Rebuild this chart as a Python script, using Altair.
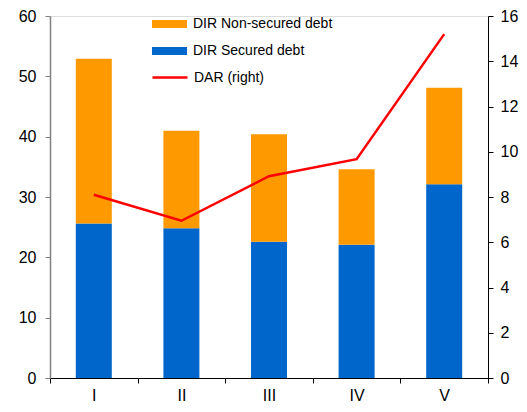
import altair as alt
import pandas as pd

categories = ["I", "II", "III", "IV", "V"]
secured = [25.6, 24.8, 22.6, 22.1, 32.1]
non_secured = [27.3, 16.2, 17.8, 12.5, 16.0]
dar = [8.1, 6.95, 8.92, 9.67, 15.2]

SEC = "DIR Secured debt"
NON = "DIR Non-secured debt"
DAR = "DAR (right)"

bars_df = pd.DataFrame(
    [{"cat": c, "series": SEC, "value": v, "ord": 0} for c, v in zip(categories, secured)]
    + [{"cat": c, "series": NON, "value": v, "ord": 1} for c, v in zip(categories, non_secured)]
)
line_df = pd.DataFrame({"cat": categories, "dar": dar, "lbl": [DAR] * len(categories)})

FONT = "Liberation Sans"
rect_path = "M-2.92,-0.67H2.92V0.67H-2.92Z"
line_path = "M-2.92,0H2.92"

x_enc = alt.X(
    "cat:N",
    sort=categories,
    scale=alt.Scale(paddingInner=0, paddingOuter=0),
    axis=alt.Axis(
        title=None, labelAngle=0, tickBand="extent", domainColor="black",
        tickColor="black", tickSize=5, labelPadding=4, labelFontSize=16,
        labelColor="black", labelFont=FONT,
    ),
)

bars = alt.Chart(bars_df).mark_bar(size=36).encode(
    x=x_enc,
    y=alt.Y(
        "value:Q", stack="zero",
        scale=alt.Scale(domain=[0, 60], nice=False),
        axis=alt.Axis(
            title=None, values=[0, 10, 20, 30, 40, 50, 60], grid=False,
            domainColor="#808080", tickColor="#808080", tickSize=5,
            labelPadding=9, labelFontSize=16, labelColor="black", labelFont=FONT,
            domainWidth=1.5,
        ),
    ),
    color=alt.Color(
        "series:N",
        scale=alt.Scale(domain=[NON, SEC], range=["#FF9900", "#0066CC"]),
        legend=alt.Legend(
            title=None, orient="none", legendX=112.5, legendY=1,
            symbolType=rect_path, symbolSize=144, symbolStrokeWidth=0,
            labelOffset=16.5, rowPadding=13, labelFontSize=14,
            labelFont=FONT, labelColor="black", padding=0,
        ),
    ),
    order=alt.Order("ord:Q"),
)

line = alt.Chart(line_df).mark_line(strokeWidth=2.5).encode(
    x=x_enc,
    y=alt.Y(
        "dar:Q",
        scale=alt.Scale(domain=[0, 16], nice=False),
        axis=alt.Axis(
            title=None, orient="right", values=[0, 2, 4, 6, 8, 10, 12, 14, 16],
            grid=False, domainColor="black", tickColor="black", tickSize=5,
            labelPadding=7, labelFontSize=16, labelColor="black", labelFont=FONT,
        ),
    ),
    stroke=alt.Stroke(
        "lbl:N",
        scale=alt.Scale(domain=[DAR], range=["#FF0000"]),
        legend=alt.Legend(
            title=None, orient="none", legendX=112.5, legendY=54,
            symbolType=line_path, symbolSize=144, symbolStrokeWidth=2.5,
            labelOffset=16.5, labelFontSize=14, labelFont=FONT,
            labelColor="black", padding=0,
        ),
    ),
)

chart = (
    alt.layer(bars, line)
    .resolve_scale(y="independent")
    .properties(
        width=438, height=362,
        autosize=alt.AutoSizeParams(type="none"),
        padding={"left": 42, "top": 8, "right": 31, "bottom": 26},
    )
    .configure_view(stroke=None)
    .configure(font=FONT)
)

chart.save("out.html", embed_options={"renderer": "svg", "actions": False})
